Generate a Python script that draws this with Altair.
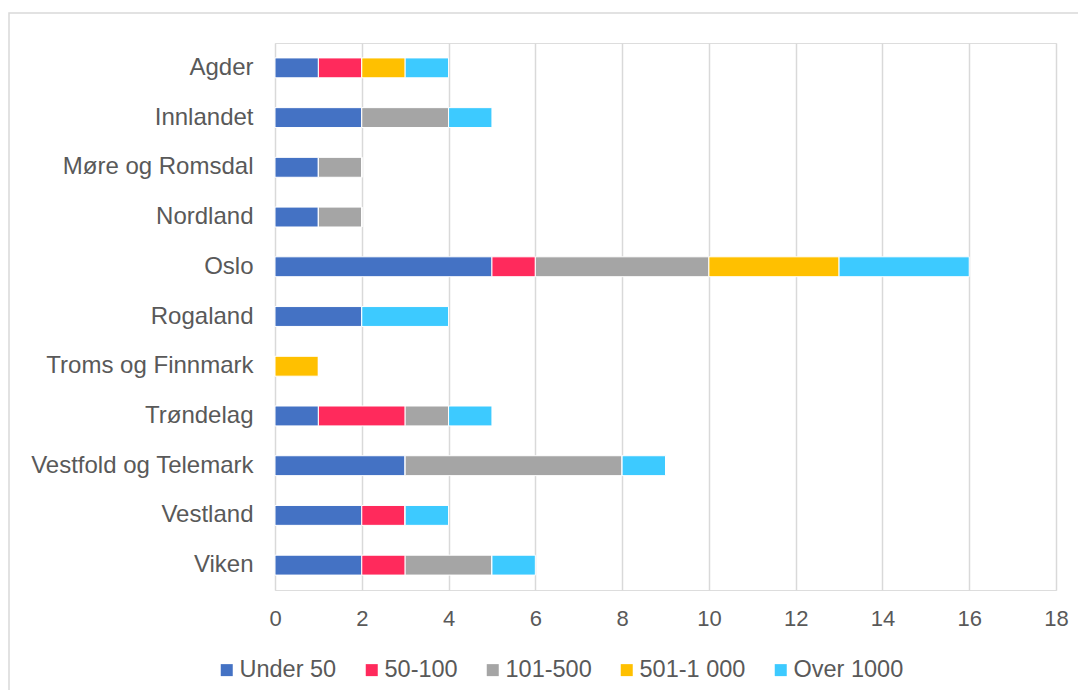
import altair as alt
import pandas as pd

regions = ["Agder", "Innlandet", "Møre og Romsdal", "Nordland", "Oslo", "Rogaland",
           "Troms og Finnmark", "Trøndelag", "Vestfold og Telemark", "Vestland", "Viken"]
sizes = ["Under 50", "50-100", "101-500", "501-1 000", "Over 1000"]
colors = ["#4472C4", "#FF2A5C", "#A5A5A5", "#FFC000", "#3DCAFF"]

under_50 = [1, 2, 1, 1, 5, 2, 0, 1, 3, 2, 2]
s50_100 = [1, 0, 0, 0, 1, 0, 0, 2, 0, 1, 1]
s101_500 = [0, 2, 1, 1, 4, 0, 0, 1, 5, 0, 2]
s501_1000 = [1, 0, 0, 0, 3, 0, 1, 0, 0, 0, 0]
over_1000 = [1, 1, 0, 0, 3, 2, 0, 1, 1, 1, 1]

series = [under_50, s50_100, s101_500, s501_1000, over_1000]
rows = []
for si, (name, vals) in enumerate(zip(sizes, series)):
    for r, v in zip(regions, vals):
        rows.append({"region": r, "size": name, "value": v, "order": si})
df = pd.DataFrame(rows)

FONT = "Liberation Sans"
TXT = "#595959"

frame = alt.Chart(pd.DataFrame({"a": [0]})).mark_rect(
    fill="transparent", stroke="#D9D9D9", strokeWidth=1.5
).encode(
    x=alt.value(-266), x2=alt.value(820), y=alt.value(-30), y2=alt.value(656)
)

bars = alt.Chart(df).mark_bar(stroke="white", strokeWidth=1).encode(
    y=alt.Y("region:N", sort=regions, title=None,
            scale=alt.Scale(paddingInner=0.6, paddingOuter=0.3),
            axis=alt.Axis(labelFont=FONT, labelFontSize=24, labelColor=TXT,
                          labelPadding=22, labelLimit=400, ticks=False,
                          domain=False, grid=False)),
    x=alt.X("value:Q", title=None, stack="zero",
            scale=alt.Scale(domain=[0, 18], nice=False),
            axis=alt.Axis(values=list(range(0, 19, 2)), labelFont=FONT, labelFontSize=22,
                          labelColor=TXT, labelPadding=18, labelFlush=False,
                          ticks=False, domain=False,
                          gridColor="#D9D9D9", gridWidth=1.5)),
    color=alt.Color("size:N", sort=sizes, title=None,
                    scale=alt.Scale(domain=sizes, range=colors),
                    legend=alt.Legend(orient="none", direction="horizontal",
                                      legendX=-60, legendY=615,
                                      symbolType="square", symbolSize=144,
                                      symbolStrokeWidth=0, labelOffset=1,
                                      columnPadding=23,
                                      labelFont=FONT, labelFontSize=23.5,
                                      labelColor=TXT)),
    order=alt.Order("order:Q", sort="ascending"),
)

chart = alt.layer(frame, bars).properties(
    width=781, height=547,
    autosize=alt.AutoSizeParams(type="none"),
    padding={"left": 267, "top": 35, "right": 22, "bottom": 100},
).configure_view(stroke=None).configure(background="white")

chart.save("out.html", embed_options={"renderer": "svg", "actions": False})
